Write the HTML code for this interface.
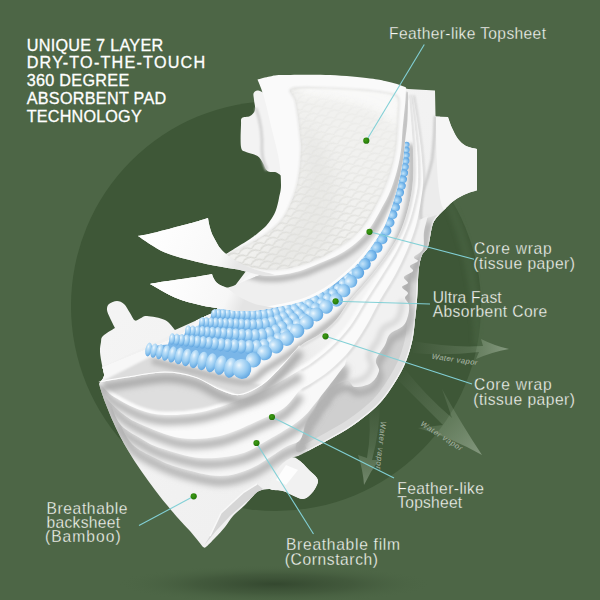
<!DOCTYPE html>
<html><head><meta charset="utf-8"><title>7 layer pad</title>
<style>html,body{margin:0;padding:0;background:#4d6646;}body{width:600px;height:600px;overflow:hidden;font-family:"Liberation Sans",sans-serif;}svg{display:block}</style>
</head><body>
<svg width="600" height="600" viewBox="0 0 600 600">
<defs>
<radialGradient id="gshadow" cx="0.5" cy="0.5" r="0.5">
 <stop offset="0" stop-color="#2a3c26" stop-opacity="0.72"/><stop offset="0.5" stop-color="#33472e" stop-opacity="0.4"/><stop offset="1" stop-color="#4b6544" stop-opacity="0"/>
</radialGradient>
<radialGradient id="bead" cx="0.38" cy="0.3" r="0.78">
 <stop offset="0" stop-color="#eef8fe"/><stop offset="0.25" stop-color="#bfe0f8"/><stop offset="0.6" stop-color="#92c8f0"/><stop offset="0.88" stop-color="#68abe3"/><stop offset="1" stop-color="#5299d8"/>
</radialGradient>
<radialGradient id="bead2" cx="0.4" cy="0.35" r="0.75">
 <stop offset="0" stop-color="#c6e3f9"/><stop offset="0.3" stop-color="#9fd0f3"/><stop offset="0.7" stop-color="#6eb1e8"/><stop offset="1" stop-color="#4a94d8"/>
</radialGradient>
<radialGradient id="dot" cx="0.4" cy="0.4" r="0.6">
 <stop offset="0" stop-color="#3f9a16"/><stop offset="0.6" stop-color="#2e880b"/><stop offset="1" stop-color="#23740a"/>
</radialGradient>
<linearGradient id="gflap1" gradientUnits="userSpaceOnUse" x1="150" y1="225" x2="235" y2="270">
 <stop offset="0" stop-color="#ffffff"/><stop offset="0.8" stop-color="#f8f8f8"/><stop offset="1" stop-color="#e6e6e6"/>
</linearGradient>
<linearGradient id="gflap2" gradientUnits="userSpaceOnUse" x1="160" y1="278" x2="240" y2="312">
 <stop offset="0" stop-color="#ffffff"/><stop offset="0.8" stop-color="#f7f7f7"/><stop offset="1" stop-color="#e4e4e4"/>
</linearGradient>
<linearGradient id="gE2" gradientUnits="userSpaceOnUse" x1="230" y1="405" x2="340" y2="340">
 <stop offset="0" stop-color="#dedede"/><stop offset="1" stop-color="#f3f3f3"/>
</linearGradient>
<linearGradient id="gbody" x1="0" y1="0" x2="1" y2="1">
 <stop offset="0" stop-color="#f7f7f7"/><stop offset="1" stop-color="#ececec"/>
</linearGradient>
<linearGradient id="garrow1" gradientUnits="userSpaceOnUse" x1="410" y1="346" x2="509" y2="349">
 <stop offset="0" stop-color="#ffffff" stop-opacity="0"/><stop offset="0.6" stop-color="#cfe5c8" stop-opacity="0.15"/><stop offset="1" stop-color="#eaf5e6" stop-opacity="0.36"/>
</linearGradient>
<linearGradient id="garrow2" gradientUnits="userSpaceOnUse" x1="400" y1="370" x2="481" y2="453">
 <stop offset="0" stop-color="#ffffff" stop-opacity="0"/><stop offset="0.55" stop-color="#cfe5c8" stop-opacity="0.14"/><stop offset="1" stop-color="#eaf5e6" stop-opacity="0.34"/>
</linearGradient>
<linearGradient id="garrow3" gradientUnits="userSpaceOnUse" x1="373" y1="400" x2="365" y2="483">
 <stop offset="0" stop-color="#ffffff" stop-opacity="0"/><stop offset="0.55" stop-color="#cfe5c8" stop-opacity="0.12"/><stop offset="1" stop-color="#eaf5e6" stop-opacity="0.30"/>
</linearGradient>
<pattern id="quilt" width="14" height="10" patternUnits="userSpaceOnUse" patternTransform="rotate(-22)">
 <path d="M0 5 Q7 -1.5 14 5" fill="none" stroke="#dadad6" stroke-width="1.2"/>
 <path d="M-7 10 Q0 3.5 7 10 M7 10 Q14 3.5 21 10 M-7 0 Q0 -6.5 7 0 M7 0 Q14 -6.5 21 0" fill="none" stroke="#dadad6" stroke-width="1.2"/>
</pattern>
<linearGradient id="gmq" gradientUnits="userSpaceOnUse" x1="360" y1="80" x2="290" y2="270">
 <stop offset="0" stop-color="#fff" stop-opacity="0.05"/><stop offset="0.4" stop-color="#fff" stop-opacity="0.35"/><stop offset="1" stop-color="#fff" stop-opacity="1"/>
</linearGradient>
<mask id="mq" maskUnits="userSpaceOnUse" x="0" y="0" width="600" height="600"><rect width="600" height="600" fill="url(#gmq)"/></mask>
<filter id="b05" x="-5%" y="-5%" width="110%" height="110%"><feGaussianBlur stdDeviation="0.6"/></filter>
<filter id="b1" x="-20%" y="-20%" width="140%" height="140%"><feGaussianBlur stdDeviation="1"/></filter>
<filter id="b2" x="-20%" y="-20%" width="140%" height="140%"><feGaussianBlur stdDeviation="2.2"/></filter>
<filter id="b3" x="-20%" y="-20%" width="140%" height="140%"><feGaussianBlur stdDeviation="3"/></filter>
<filter id="b4" x="-30%" y="-30%" width="160%" height="160%"><feGaussianBlur stdDeviation="4"/></filter>
<filter id="b7" x="-30%" y="-30%" width="160%" height="160%"><feGaussianBlur stdDeviation="7"/></filter>
</defs>
<rect width="600" height="600" fill="#4d6646"/>
<circle cx="276" cy="306" r="205" fill="#3e5737"/>
<path d="M449 203 Q476 262 478 345" fill="none" stroke="#4c6645" stroke-width="9" opacity="0.5" filter="url(#b2)"/>
<ellipse cx="275" cy="584" rx="158" ry="19" fill="url(#gshadow)"/>
<path d="M413 341 Q450 348 483 346 L481 339 Q495 346 509 349 Q492 352 476 359 L479 352 Q445 356 413 353 Z" fill="url(#garrow1)"/>
<path d="M404 368 Q425 395 452 418 L442 389 Q462 425 482 455 Q450 437 418 428 L443 425 Q418 400 398 380 Z" fill="url(#garrow2)"/>
<path d="M368 402 Q372 430 367 458 L358 455 Q363 470 364 485 Q370 472 379 460 L372 460 Q380 430 380 400 Z" fill="url(#garrow3)"/>
<path d="M262.0 92.0 C256.3 89.1 255.3 91.2 254.0 92.5 C252.7 93.8 253.8 97.1 254.0 100.0 C254.2 102.9 255.7 107.3 255.0 110.0 C254.3 112.7 252.2 114.7 250.0 116.0 C247.8 117.3 243.5 116.5 242.0 118.0 C240.5 119.5 241.2 120.2 241.0 125.0 C240.8 129.8 240.2 142.5 241.0 147.0 C241.8 151.5 243.2 150.5 246.0 152.0 C248.8 153.5 254.7 154.2 257.5 156.0 C260.3 157.8 261.3 160.5 263.0 163.0 C264.7 165.5 265.5 169.5 267.5 171.0 C269.5 172.5 271.6 171.8 275.0 172.0 C278.4 172.2 285.8 182.3 288.0 172.0 C290.2 161.7 292.3 123.3 288.0 110.0 C283.7 96.7 267.7 94.9 262.0 92.0Z" fill="#f3f3f3"/>
<path d="M256 108 Q263 128 262 150 Q262 160 267 170" fill="none" stroke="#d4d4d4" stroke-width="3" filter="url(#b1)"/>
<clipPath id="cbody"><path d="M300.0 100.0 L400.0 87.0 L408.0 89.0 L435.0 90.5 L435.5 116.5 L448.0 117.0 L448.0 117.0 C448.7 118.8 450.3 124.3 452.0 128.0 C453.7 131.7 455.7 136.0 458.0 139.0 C460.3 142.0 462.8 144.3 466.0 146.0 C469.2 147.7 475.2 148.5 477.0 149.0 L477.0 149.0 L477.0 190.5 L477.0 190.5 C475.2 191.1 469.7 192.4 466.0 194.0 C462.3 195.6 458.3 197.7 455.0 200.0 C451.7 202.3 448.8 205.3 446.0 208.0 C443.2 210.7 440.2 213.2 438.0 216.0 C435.8 218.8 434.2 219.9 432.5 225.0 C430.8 230.1 429.8 241.5 428.0 246.5 C426.2 251.5 423.5 251.6 422.0 255.0 C420.5 258.4 419.7 262.8 419.0 267.0 C418.3 271.2 418.3 274.5 418.0 280.0 C417.7 285.5 417.5 293.3 417.0 300.0 C416.5 306.7 415.8 313.0 415.0 320.0 C414.2 327.0 413.8 334.3 412.0 342.0 C410.2 349.7 407.7 358.0 404.0 366.0 C400.3 374.0 394.7 383.2 390.0 390.0 C385.3 396.8 382.3 401.0 376.0 407.0 C369.7 413.0 359.7 420.7 352.0 426.0 C344.3 431.3 337.3 434.8 330.0 439.0 C322.7 443.2 313.3 448.2 308.0 451.0 C302.7 453.8 299.7 455.2 298.0 456.0 L292.0 457.5 C293.3 458.1 297.3 459.1 300.0 461.0 C302.7 462.9 305.1 466.0 308.0 469.0 C310.9 472.0 316.2 476.0 317.5 479.0 C318.8 482.0 317.2 484.3 316.0 487.0 C314.8 489.7 312.2 493.0 310.0 495.0 C307.8 497.0 305.7 498.8 303.0 499.0 C300.3 499.2 297.3 497.3 294.0 496.0 C290.7 494.7 287.0 492.2 283.0 491.0 C279.0 489.8 273.5 489.2 270.0 489.0 C266.5 488.8 263.3 489.8 262.0 490.0 L262.0 490.0 C261.0 490.5 258.8 490.5 256.0 493.0 C253.2 495.5 248.8 501.2 245.0 505.0 C241.2 508.8 236.3 512.3 233.0 516.0 C229.7 519.7 228.0 523.3 225.0 527.0 C222.0 530.7 218.2 534.7 215.0 538.0 C211.8 541.3 208.0 545.5 206.0 547.0 C204.0 548.5 203.5 547.0 203.0 547.0 L203.0 547.0 C200.8 544.3 194.3 536.0 190.0 531.0 C185.7 526.0 182.8 523.8 177.0 517.0 C171.2 510.2 162.5 500.0 155.0 490.0 C147.5 480.0 138.3 467.0 132.0 457.0 C125.7 447.0 121.5 439.2 117.0 430.0 C112.5 420.8 108.0 409.7 105.0 402.0 C102.0 394.3 100.0 387.0 99.0 384.0 L99.0 384.0 C99.8 382.7 103.5 379.2 104.0 376.0 C104.5 372.8 102.7 369.0 102.0 365.0 C101.3 361.0 100.2 355.8 100.0 352.0 C99.8 348.2 100.5 344.7 101.0 342.0 C101.5 339.3 100.7 338.3 103.0 336.0 C105.3 333.7 113.0 329.3 115.0 328.0 L115.0 328.0 C114.2 326.3 111.3 321.0 110.0 318.0 C108.7 315.0 107.2 312.3 107.0 310.0 C106.8 307.7 107.3 305.5 109.0 304.0 C110.7 302.5 114.5 301.0 117.0 301.0 C119.5 301.0 121.8 302.0 124.0 304.0 C126.2 306.0 128.2 310.2 130.0 313.0 C131.8 315.8 133.2 319.7 135.0 320.5 C136.8 321.3 139.0 318.8 141.0 318.0 C143.0 317.2 143.0 315.7 147.0 316.0 C151.0 316.3 160.3 317.7 165.0 320.0 C169.7 322.3 173.3 328.3 175.0 330.0 L175.0 330.0 L215.0 312.0 L300.0 200.0 Z"/></clipPath>
<path d="M300.0 100.0 L400.0 87.0 L408.0 89.0 L435.0 90.5 L435.5 116.5 L448.0 117.0 L448.0 117.0 C448.7 118.8 450.3 124.3 452.0 128.0 C453.7 131.7 455.7 136.0 458.0 139.0 C460.3 142.0 462.8 144.3 466.0 146.0 C469.2 147.7 475.2 148.5 477.0 149.0 L477.0 149.0 L477.0 190.5 L477.0 190.5 C475.2 191.1 469.7 192.4 466.0 194.0 C462.3 195.6 458.3 197.7 455.0 200.0 C451.7 202.3 448.8 205.3 446.0 208.0 C443.2 210.7 440.2 213.2 438.0 216.0 C435.8 218.8 434.2 219.9 432.5 225.0 C430.8 230.1 429.8 241.5 428.0 246.5 C426.2 251.5 423.5 251.6 422.0 255.0 C420.5 258.4 419.7 262.8 419.0 267.0 C418.3 271.2 418.3 274.5 418.0 280.0 C417.7 285.5 417.5 293.3 417.0 300.0 C416.5 306.7 415.8 313.0 415.0 320.0 C414.2 327.0 413.8 334.3 412.0 342.0 C410.2 349.7 407.7 358.0 404.0 366.0 C400.3 374.0 394.7 383.2 390.0 390.0 C385.3 396.8 382.3 401.0 376.0 407.0 C369.7 413.0 359.7 420.7 352.0 426.0 C344.3 431.3 337.3 434.8 330.0 439.0 C322.7 443.2 313.3 448.2 308.0 451.0 C302.7 453.8 299.7 455.2 298.0 456.0 L292.0 457.5 C293.3 458.1 297.3 459.1 300.0 461.0 C302.7 462.9 305.1 466.0 308.0 469.0 C310.9 472.0 316.2 476.0 317.5 479.0 C318.8 482.0 317.2 484.3 316.0 487.0 C314.8 489.7 312.2 493.0 310.0 495.0 C307.8 497.0 305.7 498.8 303.0 499.0 C300.3 499.2 297.3 497.3 294.0 496.0 C290.7 494.7 287.0 492.2 283.0 491.0 C279.0 489.8 273.5 489.2 270.0 489.0 C266.5 488.8 263.3 489.8 262.0 490.0 L262.0 490.0 C261.0 490.5 258.8 490.5 256.0 493.0 C253.2 495.5 248.8 501.2 245.0 505.0 C241.2 508.8 236.3 512.3 233.0 516.0 C229.7 519.7 228.0 523.3 225.0 527.0 C222.0 530.7 218.2 534.7 215.0 538.0 C211.8 541.3 208.0 545.5 206.0 547.0 C204.0 548.5 203.5 547.0 203.0 547.0 L203.0 547.0 C200.8 544.3 194.3 536.0 190.0 531.0 C185.7 526.0 182.8 523.8 177.0 517.0 C171.2 510.2 162.5 500.0 155.0 490.0 C147.5 480.0 138.3 467.0 132.0 457.0 C125.7 447.0 121.5 439.2 117.0 430.0 C112.5 420.8 108.0 409.7 105.0 402.0 C102.0 394.3 100.0 387.0 99.0 384.0 L99.0 384.0 C99.8 382.7 103.5 379.2 104.0 376.0 C104.5 372.8 102.7 369.0 102.0 365.0 C101.3 361.0 100.2 355.8 100.0 352.0 C99.8 348.2 100.5 344.7 101.0 342.0 C101.5 339.3 100.7 338.3 103.0 336.0 C105.3 333.7 113.0 329.3 115.0 328.0 L115.0 328.0 C114.2 326.3 111.3 321.0 110.0 318.0 C108.7 315.0 107.2 312.3 107.0 310.0 C106.8 307.7 107.3 305.5 109.0 304.0 C110.7 302.5 114.5 301.0 117.0 301.0 C119.5 301.0 121.8 302.0 124.0 304.0 C126.2 306.0 128.2 310.2 130.0 313.0 C131.8 315.8 133.2 319.7 135.0 320.5 C136.8 321.3 139.0 318.8 141.0 318.0 C143.0 317.2 143.0 315.7 147.0 316.0 C151.0 316.3 160.3 317.7 165.0 320.0 C169.7 322.3 173.3 328.3 175.0 330.0 L175.0 330.0 L215.0 312.0 L300.0 200.0 Z" fill="url(#gbody)"/>
<g clip-path="url(#cbody)">
<path d="M436.0 212.0 C436.8 213.7 431.7 219.0 430.0 225.0 C428.3 231.0 428.0 242.5 426.0 248.0 C424.0 253.5 420.3 252.3 418.0 258.0 C415.7 263.7 413.3 274.0 412.0 282.0 C410.7 290.0 410.2 298.7 410.0 306.0 C409.8 313.3 411.2 318.7 411.0 326.0 C410.8 333.3 410.8 342.0 409.0 350.0 C407.2 358.0 403.7 367.3 400.0 374.0 C396.3 380.7 391.7 384.3 387.0 390.0 C382.3 395.7 378.5 401.8 372.0 408.0 C365.5 414.2 356.7 421.5 348.0 427.0 C339.3 432.5 328.0 436.8 320.0 441.0 C312.0 445.2 304.0 451.2 300.0 452.0 C296.0 452.8 295.2 450.5 296.0 446.0 C296.8 441.5 301.8 431.8 305.0 425.0 C308.2 418.2 311.7 411.3 315.0 405.0 C318.3 398.7 320.0 394.5 325.0 387.0 C330.0 379.5 337.5 369.5 345.0 360.0 C352.5 350.5 361.7 341.7 370.0 330.0 C378.3 318.3 388.3 303.3 395.0 290.0 C401.7 276.7 405.0 262.5 410.0 250.0 C415.0 237.5 420.7 221.3 425.0 215.0 C429.3 208.7 435.2 210.3 436.0 212.0Z" fill="#cfcfcf"/>
<path d="M446.0 208.0 C444.7 209.3 440.2 213.2 438.0 216.0 C435.8 218.8 434.2 219.9 432.5 225.0 C430.8 230.1 429.8 241.5 428.0 246.5 C426.2 251.5 423.5 251.6 422.0 255.0 C420.5 258.4 419.7 262.8 419.0 267.0 C418.3 271.2 418.3 274.5 418.0 280.0 C417.7 285.5 417.5 293.3 417.0 300.0 C416.5 306.7 415.8 313.0 415.0 320.0 C414.2 327.0 413.8 334.3 412.0 342.0 C410.2 349.7 407.7 358.0 404.0 366.0 C400.3 374.0 394.7 383.2 390.0 390.0 C385.3 396.8 382.3 401.0 376.0 407.0 C369.7 413.0 359.7 420.7 352.0 426.0 C344.3 431.3 337.3 434.8 330.0 439.0 C322.7 443.2 311.7 449.0 308.0 451.0" fill="none" stroke="#dedede" stroke-width="15"/>
<path d="M446.0 208.0 C444.7 209.3 440.2 213.2 438.0 216.0 C435.8 218.8 434.2 219.9 432.5 225.0 C430.8 230.1 429.8 241.5 428.0 246.5 C426.2 251.5 423.5 251.6 422.0 255.0 C420.5 258.4 419.7 262.8 419.0 267.0 C418.3 271.2 418.3 274.5 418.0 280.0 C417.7 285.5 417.5 293.3 417.0 300.0 C416.5 306.7 415.8 313.0 415.0 320.0 C414.2 327.0 413.8 334.3 412.0 342.0 C410.2 349.7 407.7 358.0 404.0 366.0 C400.3 374.0 394.7 383.2 390.0 390.0 C385.3 396.8 382.3 401.0 376.0 407.0 C369.7 413.0 359.7 420.7 352.0 426.0 C344.3 431.3 337.3 434.8 330.0 439.0 C322.7 443.2 311.7 449.0 308.0 451.0" fill="none" stroke="#f3f3f3" stroke-width="2.5"/>
<path d="M435 116 Q434.5 140 432 160 Q428 178 422.5 192 Q420 204 421 220 L440 214 L452 200 L440 116Z" fill="#ececec"/>
<path d="M435 116 Q434.5 140 432 160 Q428 178 422.5 192 Q420 204 421 220" fill="none" stroke="#c9c9c9" stroke-width="2.5" filter="url(#b1)"/>
<path d="M448 117 Q454 136 477 149 L477 190 Q455 197 444 210 Q436 200 436 117Z" fill="#f6f6f6"/>
<path d="M428.0 216.0 C427.3 218.7 424.8 226.5 424.0 232.0 C423.2 237.5 424.7 244.8 423.0 249.0 C421.3 253.2 414.8 255.0 414.0 257.0 C413.2 259.0 418.7 259.5 418.0 261.0 C417.3 262.5 410.8 264.3 410.0 266.0 C409.2 267.7 414.0 269.2 413.0 271.0 C412.0 272.8 404.8 275.0 404.0 277.0 C403.2 279.0 408.3 281.3 408.0 283.0 C407.7 284.7 402.0 285.3 402.0 287.0 C402.0 288.7 407.5 291.2 408.0 293.0 C408.5 294.8 404.8 296.0 405.0 298.0 C405.2 300.0 408.5 302.0 409.0 305.0 C409.5 308.0 409.0 312.5 408.0 316.0 C407.0 319.5 406.0 323.0 403.0 326.0 C400.0 329.0 393.0 330.8 390.0 334.0 C387.0 337.2 387.3 340.7 385.0 345.0 C382.7 349.3 377.0 355.7 376.0 360.0 C375.0 364.3 379.8 367.2 379.0 371.0 C378.2 374.8 375.0 380.3 371.0 383.0 C367.0 385.7 359.0 387.3 355.0 387.0 C351.0 386.7 351.2 380.8 347.0 381.0 C342.8 381.2 333.5 385.5 330.0 388.0 C326.5 390.5 328.0 393.3 326.0 396.0 C324.0 398.7 320.0 401.3 318.0 404.0 C316.0 406.7 315.7 409.3 314.0 412.0 C312.3 414.7 310.0 416.0 308.0 420.0 C306.0 424.0 303.7 431.7 302.0 436.0 C300.3 440.3 298.7 444.3 298.0 446.0" fill="none" stroke="#a0a0a0" stroke-width="5" filter="url(#b3)" transform="translate(1,6)"/>
<path d="M428.0 216.0 C427.3 218.7 424.8 226.5 424.0 232.0 C423.2 237.5 424.7 244.8 423.0 249.0 C421.3 253.2 414.8 255.0 414.0 257.0 C413.2 259.0 418.7 259.5 418.0 261.0 C417.3 262.5 410.8 264.3 410.0 266.0 C409.2 267.7 414.0 269.2 413.0 271.0 C412.0 272.8 404.8 275.0 404.0 277.0 C403.2 279.0 408.3 281.3 408.0 283.0 C407.7 284.7 402.0 285.3 402.0 287.0 C402.0 288.7 407.5 291.2 408.0 293.0 C408.5 294.8 404.8 296.0 405.0 298.0 C405.2 300.0 408.5 302.0 409.0 305.0 C409.5 308.0 409.0 312.5 408.0 316.0 C407.0 319.5 406.0 323.0 403.0 326.0 C400.0 329.0 393.0 330.8 390.0 334.0 C387.0 337.2 387.3 340.7 385.0 345.0 C382.7 349.3 377.0 355.7 376.0 360.0 C375.0 364.3 379.8 367.2 379.0 371.0 C378.2 374.8 375.0 380.3 371.0 383.0 C367.0 385.7 359.0 387.3 355.0 387.0 C351.0 386.7 351.2 380.8 347.0 381.0 C342.8 381.2 333.5 385.5 330.0 388.0 C326.5 390.5 328.0 393.3 326.0 396.0 C324.0 398.7 320.0 401.3 318.0 404.0 C316.0 406.7 315.7 409.3 314.0 412.0 C312.3 414.7 310.0 416.0 308.0 420.0 C306.0 424.0 303.7 431.7 302.0 436.0 C300.3 440.3 298.7 444.3 298.0 446.0 L409.0 100.0 L300.0 230.0 L180.0 335.0 L95.0 370.0 Z" fill="#f1f1f1"/>
<path d="M409.0 305.0 C408.8 306.8 409.0 312.5 408.0 316.0 C407.0 319.5 406.0 323.0 403.0 326.0 C400.0 329.0 393.0 330.8 390.0 334.0 C387.0 337.2 387.3 340.7 385.0 345.0 C382.7 349.3 377.0 355.7 376.0 360.0 C375.0 364.3 379.8 367.2 379.0 371.0 C378.2 374.8 375.0 380.3 371.0 383.0 C367.0 385.7 359.0 387.3 355.0 387.0 C351.0 386.7 351.2 380.8 347.0 381.0 C342.8 381.2 333.5 385.5 330.0 388.0 C326.5 390.5 328.0 393.3 326.0 396.0 C324.0 398.7 320.0 401.3 318.0 404.0 C316.0 406.7 315.7 409.3 314.0 412.0 C312.3 414.7 309.0 418.7 308.0 420.0" fill="none" stroke="#dadada" stroke-width="6" filter="url(#b2)" transform="translate(-7,-5)"/>
<path d="M204.5 545 L210 536 L221 513 L233 502 L244 492 L257 484 L263 489 L246 502 L230 516 L216 531Z" fill="#d6d6d6"/>
<path d="M210 536 L221 513 L233 502 L244 492 L257 484" fill="none" stroke="#f8f8f8" stroke-width="1.5"/>
<path d="M118.0 420.0 C120.3 424.0 125.8 437.7 132.0 444.0 C138.2 450.3 147.0 454.0 155.0 458.0 C163.0 462.0 169.2 465.0 180.0 468.0 C190.8 471.0 208.0 476.0 220.0 476.0 C232.0 476.0 241.3 472.7 252.0 468.0 C262.7 463.3 276.0 452.7 284.0 448.0 C292.0 443.3 296.3 444.3 300.0 440.0 C303.7 435.7 303.3 427.7 306.0 422.0 C308.7 416.3 313.0 411.3 316.0 406.0 C319.0 400.7 319.2 397.7 324.0 390.0 C328.8 382.3 341.5 365.0 345.0 360.0" fill="none" stroke="#b2b2b2" stroke-width="8.0" filter="url(#b3)" transform="translate(1,6)"/>
<path d="M118.0 420.0 C120.3 424.0 125.8 437.7 132.0 444.0 C138.2 450.3 147.0 454.0 155.0 458.0 C163.0 462.0 169.2 465.0 180.0 468.0 C190.8 471.0 208.0 476.0 220.0 476.0 C232.0 476.0 241.3 472.7 252.0 468.0 C262.7 463.3 276.0 452.7 284.0 448.0 C292.0 443.3 296.3 444.3 300.0 440.0 C303.7 435.7 303.3 427.7 306.0 422.0 C308.7 416.3 313.0 411.3 316.0 406.0 C319.0 400.7 319.2 397.7 324.0 390.0 C328.8 382.3 341.5 365.0 345.0 360.0 L409.0 100.0 L300.0 230.0 L180.0 335.0 L95.0 370.0 Z" fill="#f6f6f6"/>
<path d="M110.0 402.0 C111.7 405.7 115.0 418.0 120.0 424.0 C125.0 430.0 133.3 434.0 140.0 438.0 C146.7 442.0 150.0 444.7 160.0 448.0 C170.0 451.3 186.7 457.0 200.0 458.0 C213.3 459.0 228.7 457.0 240.0 454.0 C251.3 451.0 258.0 445.7 268.0 440.0 C278.0 434.3 291.7 426.7 300.0 420.0 C308.3 413.3 310.5 409.2 318.0 400.0 C325.5 390.8 340.5 370.8 345.0 365.0" fill="none" stroke="#b2b2b2" stroke-width="8.0" filter="url(#b3)" transform="translate(1,6)"/>
<path d="M110.0 402.0 C111.7 405.7 115.0 418.0 120.0 424.0 C125.0 430.0 133.3 434.0 140.0 438.0 C146.7 442.0 150.0 444.7 160.0 448.0 C170.0 451.3 186.7 457.0 200.0 458.0 C213.3 459.0 228.7 457.0 240.0 454.0 C251.3 451.0 258.0 445.7 268.0 440.0 C278.0 434.3 291.7 426.7 300.0 420.0 C308.3 413.3 310.5 409.2 318.0 400.0 C325.5 390.8 340.5 370.8 345.0 365.0 L409.0 100.0 L300.0 230.0 L180.0 335.0 L95.0 370.0 Z" fill="#f8f8f8"/>
<path d="M103.0 392.0 C103.8 393.3 104.7 396.3 108.0 400.0 C111.3 403.7 117.7 410.0 123.0 414.0 C128.3 418.0 130.5 420.0 140.0 424.0 C149.5 428.0 166.7 436.0 180.0 438.0 C193.3 440.0 206.7 439.0 220.0 436.0 C233.3 433.0 249.3 424.7 260.0 420.0 C270.7 415.3 277.3 413.0 284.0 408.0 C290.7 403.0 297.3 393.0 300.0 390.0" fill="none" stroke="#b2b2b2" stroke-width="8.0" filter="url(#b3)" transform="translate(1,6)"/>
<path d="M300.0 390.0 C301.7 389.0 305.0 387.3 310.0 384.0 C315.0 380.7 323.3 375.7 330.0 370.0 C336.7 364.3 344.0 357.3 350.0 350.0 C356.0 342.7 361.0 334.3 366.0 326.0 C371.0 317.7 375.2 308.5 380.0 300.0 C384.8 291.5 390.5 283.3 395.0 275.0 C399.5 266.7 403.5 258.3 407.0 250.0 C410.5 241.7 413.7 233.3 416.0 225.0 C418.3 216.7 419.8 207.5 421.0 200.0 C422.2 192.5 423.0 188.3 423.0 180.0 C423.0 171.7 422.0 160.0 421.0 150.0 C420.0 140.0 418.3 129.2 417.0 120.0 C415.7 110.8 413.7 99.2 413.0 95.0" fill="none" stroke="#cccccc" stroke-width="1.5" filter="url(#b1)" transform="translate(1.2,0.5)"/>
<path d="M103.0 392.0 C103.8 393.3 104.7 396.3 108.0 400.0 C111.3 403.7 117.7 410.0 123.0 414.0 C128.3 418.0 130.5 420.0 140.0 424.0 C149.5 428.0 166.7 436.0 180.0 438.0 C193.3 440.0 206.7 439.0 220.0 436.0 C233.3 433.0 249.3 424.7 260.0 420.0 C270.7 415.3 277.3 413.0 284.0 408.0 C290.7 403.0 295.7 394.0 300.0 390.0 C304.3 386.0 305.0 387.3 310.0 384.0 C315.0 380.7 323.3 375.7 330.0 370.0 C336.7 364.3 344.0 357.3 350.0 350.0 C356.0 342.7 361.0 334.3 366.0 326.0 C371.0 317.7 375.2 308.5 380.0 300.0 C384.8 291.5 390.5 283.3 395.0 275.0 C399.5 266.7 403.5 258.3 407.0 250.0 C410.5 241.7 413.7 233.3 416.0 225.0 C418.3 216.7 419.8 207.5 421.0 200.0 C422.2 192.5 423.0 188.3 423.0 180.0 C423.0 171.7 422.0 160.0 421.0 150.0 C420.0 140.0 418.3 129.2 417.0 120.0 C415.7 110.8 413.7 99.2 413.0 95.0 L409.0 100.0 L300.0 230.0 L180.0 335.0 L95.0 370.0 Z" fill="#fafafa"/>
<path d="M98.8 382.5 C100.0 383.8 103.3 387.5 106.0 390.0 C108.7 392.5 109.3 394.2 115.0 397.5 C120.7 400.8 131.7 407.1 140.0 410.0 C148.3 412.9 154.7 414.7 165.0 415.0 C175.3 415.3 189.5 414.5 202.0 412.0 C214.5 409.5 229.5 403.7 240.0 400.0 C250.5 396.3 257.8 393.3 265.0 390.0 C272.2 386.7 277.2 383.3 283.0 380.0 C288.8 376.7 297.2 371.7 300.0 370.0" fill="none" stroke="#b2b2b2" stroke-width="8.0" filter="url(#b3)" transform="translate(1,6)"/>
<path d="M300.0 370.0 C301.7 369.0 305.0 367.7 310.0 364.0 C315.0 360.3 323.3 354.3 330.0 348.0 C336.7 341.7 344.0 334.0 350.0 326.0 C356.0 318.0 360.7 308.5 366.0 300.0 C371.3 291.5 376.8 283.3 382.0 275.0 C387.2 266.7 392.7 258.3 397.0 250.0 C401.3 241.7 405.0 233.3 408.0 225.0 C411.0 216.7 413.3 207.5 415.0 200.0 C416.7 192.5 417.7 188.3 418.0 180.0 C418.3 171.7 417.7 160.0 417.0 150.0 C416.3 140.0 415.0 129.2 414.0 120.0 C413.0 110.8 411.5 99.2 411.0 95.0" fill="none" stroke="#cccccc" stroke-width="1.5" filter="url(#b1)" transform="translate(1.2,0.5)"/>
<path d="M98.8 382.5 C100.0 383.8 103.3 387.5 106.0 390.0 C108.7 392.5 109.3 394.2 115.0 397.5 C120.7 400.8 131.7 407.1 140.0 410.0 C148.3 412.9 154.7 414.7 165.0 415.0 C175.3 415.3 189.5 414.5 202.0 412.0 C214.5 409.5 229.5 403.7 240.0 400.0 C250.5 396.3 257.8 393.3 265.0 390.0 C272.2 386.7 277.2 383.3 283.0 380.0 C288.8 376.7 295.5 372.7 300.0 370.0 C304.5 367.3 305.0 367.7 310.0 364.0 C315.0 360.3 323.3 354.3 330.0 348.0 C336.7 341.7 344.0 334.0 350.0 326.0 C356.0 318.0 360.7 308.5 366.0 300.0 C371.3 291.5 376.8 283.3 382.0 275.0 C387.2 266.7 392.7 258.3 397.0 250.0 C401.3 241.7 405.0 233.3 408.0 225.0 C411.0 216.7 413.3 207.5 415.0 200.0 C416.7 192.5 417.7 188.3 418.0 180.0 C418.3 171.7 417.7 160.0 417.0 150.0 C416.3 140.0 415.0 129.2 414.0 120.0 C413.0 110.8 411.5 99.2 411.0 95.0 L409.0 100.0 L300.0 230.0 L180.0 335.0 L95.0 370.0 Z" fill="url(#gE2)"/>
<clipPath id="cE2"><path d="M98.8 382.5 C100.0 383.8 103.3 387.5 106.0 390.0 C108.7 392.5 109.3 394.2 115.0 397.5 C120.7 400.8 131.7 407.1 140.0 410.0 C148.3 412.9 154.7 414.7 165.0 415.0 C175.3 415.3 189.5 414.5 202.0 412.0 C214.5 409.5 229.5 403.7 240.0 400.0 C250.5 396.3 257.8 393.3 265.0 390.0 C272.2 386.7 277.2 383.3 283.0 380.0 C288.8 376.7 295.5 372.7 300.0 370.0 C304.5 367.3 305.0 367.7 310.0 364.0 C315.0 360.3 323.3 354.3 330.0 348.0 C336.7 341.7 344.0 334.0 350.0 326.0 C356.0 318.0 360.7 308.5 366.0 300.0 C371.3 291.5 376.8 283.3 382.0 275.0 C387.2 266.7 392.7 258.3 397.0 250.0 C401.3 241.7 405.0 233.3 408.0 225.0 C411.0 216.7 413.3 207.5 415.0 200.0 C416.7 192.5 417.7 188.3 418.0 180.0 C418.3 171.7 417.7 160.0 417.0 150.0 C416.3 140.0 415.0 129.2 414.0 120.0 C413.0 110.8 411.5 99.2 411.0 95.0 L409.0 100.0 L300.0 230.0 L180.0 335.0 L95.0 370.0 Z"/></clipPath>
<g clip-path="url(#cE2)"><path d="M98.8 382.5 C100.0 383.8 103.3 387.5 106.0 390.0 C108.7 392.5 109.3 394.2 115.0 397.5 C120.7 400.8 131.7 407.1 140.0 410.0 C148.3 412.9 154.7 414.7 165.0 415.0 C175.3 415.3 189.5 414.5 202.0 412.0 C214.5 409.5 229.5 403.7 240.0 400.0 C250.5 396.3 257.8 393.3 265.0 390.0 C272.2 386.7 277.2 383.3 283.0 380.0 C288.8 376.7 295.5 372.7 300.0 370.0 C304.5 367.3 305.0 367.7 310.0 364.0 C315.0 360.3 323.3 354.3 330.0 348.0 C336.7 341.7 344.0 334.0 350.0 326.0 C356.0 318.0 360.7 308.5 366.0 300.0 C371.3 291.5 376.8 283.3 382.0 275.0 C387.2 266.7 392.7 258.3 397.0 250.0 C401.3 241.7 405.0 233.3 408.0 225.0 C411.0 216.7 413.3 207.5 415.0 200.0 C416.7 192.5 417.7 188.3 418.0 180.0 C418.3 171.7 417.7 160.0 417.0 150.0 C416.3 140.0 415.0 129.2 414.0 120.0 C413.0 110.8 411.5 99.2 411.0 95.0" fill="none" stroke="#fbfbfb" stroke-width="7" filter="url(#b1)"/></g>
<path d="M98.8 382.5 C101.0 382.1 107.2 380.8 112.0 380.0 C116.8 379.2 118.7 378.8 127.5 377.5 C136.3 376.2 153.8 372.5 165.0 372.5 C176.2 372.5 185.8 374.6 195.0 377.5 C204.2 380.4 212.5 387.1 220.0 390.0 C227.5 392.9 233.0 395.8 240.0 395.0 C247.0 394.2 254.8 390.0 262.0 385.0 C269.2 380.0 276.7 371.5 283.0 365.0 C289.3 358.5 297.2 349.2 300.0 346.0" fill="none" stroke="#a8a8a8" stroke-width="8.0" filter="url(#b3)" transform="translate(1,6)"/>
<path d="M300.0 346.0 C303.3 344.0 314.0 338.3 320.0 334.0 C326.0 329.7 331.0 325.7 336.0 320.0 C341.0 314.3 345.3 306.0 350.0 300.0 C354.7 294.0 359.5 289.3 364.0 284.0 C368.5 278.7 372.7 273.7 377.0 268.0 C381.3 262.3 386.0 256.3 390.0 250.0 C394.0 243.7 397.8 237.5 401.0 230.0 C404.2 222.5 407.0 213.3 409.0 205.0 C411.0 196.7 412.3 189.2 413.0 180.0 C413.7 170.8 413.3 160.0 413.0 150.0 C412.7 140.0 411.7 129.2 411.0 120.0 C410.3 110.8 409.3 99.2 409.0 95.0" fill="none" stroke="#cccccc" stroke-width="1.5" filter="url(#b1)" transform="translate(1.2,0.5)"/>
<path d="M98.8 382.5 C101.0 382.1 107.2 380.8 112.0 380.0 C116.8 379.2 118.7 378.8 127.5 377.5 C136.3 376.2 153.8 372.5 165.0 372.5 C176.2 372.5 185.8 374.6 195.0 377.5 C204.2 380.4 212.5 387.1 220.0 390.0 C227.5 392.9 233.0 395.8 240.0 395.0 C247.0 394.2 254.8 390.0 262.0 385.0 C269.2 380.0 276.7 371.5 283.0 365.0 C289.3 358.5 293.8 351.2 300.0 346.0 C306.2 340.8 314.0 338.3 320.0 334.0 C326.0 329.7 331.0 325.7 336.0 320.0 C341.0 314.3 345.3 306.0 350.0 300.0 C354.7 294.0 359.5 289.3 364.0 284.0 C368.5 278.7 372.7 273.7 377.0 268.0 C381.3 262.3 386.0 256.3 390.0 250.0 C394.0 243.7 397.8 237.5 401.0 230.0 C404.2 222.5 407.0 213.3 409.0 205.0 C411.0 196.7 412.3 189.2 413.0 180.0 C413.7 170.8 413.3 160.0 413.0 150.0 C412.7 140.0 411.7 129.2 411.0 120.0 C410.3 110.8 409.3 99.2 409.0 95.0 L409.0 100.0 L300.0 230.0 L180.0 335.0 L95.0 370.0 Z" fill="#f7f7f7"/>
</g>
<clipPath id="cE1"><path d="M98.8 382.5 C101.0 382.1 107.2 380.8 112.0 380.0 C116.8 379.2 118.7 378.8 127.5 377.5 C136.3 376.2 153.8 372.5 165.0 372.5 C176.2 372.5 185.8 374.6 195.0 377.5 C204.2 380.4 212.5 387.1 220.0 390.0 C227.5 392.9 233.0 395.8 240.0 395.0 C247.0 394.2 254.8 390.0 262.0 385.0 C269.2 380.0 276.7 371.5 283.0 365.0 C289.3 358.5 293.8 351.2 300.0 346.0 C306.2 340.8 314.0 338.3 320.0 334.0 C326.0 329.7 331.0 325.7 336.0 320.0 C341.0 314.3 345.3 306.0 350.0 300.0 C354.7 294.0 359.5 289.3 364.0 284.0 C368.5 278.7 372.7 273.7 377.0 268.0 C381.3 262.3 386.0 256.3 390.0 250.0 C394.0 243.7 397.8 237.5 401.0 230.0 C404.2 222.5 407.0 213.3 409.0 205.0 C411.0 196.7 412.3 189.2 413.0 180.0 C413.7 170.8 413.3 160.0 413.0 150.0 C412.7 140.0 411.7 129.2 411.0 120.0 C410.3 110.8 409.3 99.2 409.0 95.0 L409.0 100.0 L300.0 230.0 L180.0 335.0 L95.0 370.0 Z"/></clipPath>
<g clip-path="url(#cE1)">
<path d="M99 383 L150 357 L240 380 L262 385 L240 396 L195 378.5 L165 373.5 L127.5 378.5Z" fill="#dcdcdc" filter="url(#b1)"/>
<path d="M150.0 358.0 C156.7 359.7 176.3 364.7 190.0 368.0 C203.7 371.3 222.2 376.3 232.0 378.0 C241.8 379.7 243.8 379.8 249.0 378.0 C254.2 376.2 256.8 371.3 263.0 367.0 C269.2 362.7 278.8 357.0 286.0 352.0 C293.2 347.0 299.3 342.0 306.0 337.0 C312.7 332.0 320.2 326.7 326.0 322.0 C331.8 317.3 336.3 313.7 341.0 309.0 C345.7 304.3 348.5 300.3 354.0 294.0 C359.5 287.7 367.8 278.8 374.0 271.0 C380.2 263.2 386.3 255.5 391.0 247.0 C395.7 238.5 399.2 228.7 402.0 220.0 C404.8 211.3 406.7 204.2 408.0 195.0 C409.3 185.8 409.8 174.0 410.0 165.0 C410.2 156.0 409.2 145.0 409.0 141.0" fill="none" stroke="#bcbcbc" stroke-width="7" filter="url(#b2)" transform="translate(2,3)"/>
<path d="M98.8 382.5 C101.0 382.1 107.2 380.8 112.0 380.0 C116.8 379.2 118.7 378.8 127.5 377.5 C136.3 376.2 153.8 372.5 165.0 372.5 C176.2 372.5 185.8 374.6 195.0 377.5 C204.2 380.4 212.5 387.1 220.0 390.0 C227.5 392.9 233.0 395.8 240.0 395.0 C247.0 394.2 254.8 390.0 262.0 385.0 C269.2 380.0 276.7 371.5 283.0 365.0 C289.3 358.5 297.2 349.2 300.0 346.0" fill="none" stroke="#fefefe" stroke-width="1.8"/>
</g>
<path d="M151.0 346.0 L168.0 344.5 L171.0 335.0 L184.0 335.5 L187.0 327.0 L198.0 327.0 L201.0 318.5 L210.0 318.5 L213.0 310.5 L300.0 300.0 L372.0 246.0 L397.0 180.0 L405.0 143.0 L407.0 143.0 L407.0 143.0 C407.0 146.7 407.5 158.0 407.0 165.0 C406.5 172.0 405.3 178.7 404.0 185.0 C402.7 191.3 401.0 196.8 399.0 203.0 C397.0 209.2 394.3 216.2 392.0 222.0 C389.7 227.8 387.8 232.8 385.0 238.0 C382.2 243.2 378.8 247.7 375.0 253.0 C371.2 258.3 366.8 264.2 362.0 270.0 C357.2 275.8 350.3 283.0 346.0 288.0 C341.7 293.0 340.0 296.2 336.0 300.0 C332.0 303.8 327.7 306.3 322.0 311.0 C316.3 315.7 308.7 322.7 302.0 328.0 C295.3 333.3 289.3 337.8 282.0 343.0 C274.7 348.2 263.8 354.5 258.0 359.0 C252.2 363.5 250.3 367.7 247.0 370.0 C243.7 372.3 239.5 372.5 238.0 373.0 L238.0 373.0 C233.3 372.0 218.0 368.8 210.0 367.0 C202.0 365.2 196.7 363.7 190.0 362.0 C183.3 360.3 176.3 358.3 170.0 357.0 C163.7 355.7 155.0 354.5 152.0 354.0 L152.0 354.0 L150.0 350.0 Z" fill="#7ab6e8"/>
<clipPath id="cbeads"><path d="M140 336 L172 333 L188 325 L202 317 L216 308 L262 302 L300 292 L340 264 L372 238 L392 200 L402 160 L404 138 L416 138 L416 200 L398 250 L352 312 L262 392 L140 368Z"/></clipPath>
<g clip-path="url(#cbeads)">
<ellipse cx="298.6" cy="301.8" rx="4.1" ry="5.4" transform="rotate(-31 298.6 301.8)" fill="url(#bead)"/>
<ellipse cx="293.2" cy="305.2" rx="4.1" ry="5.6" transform="rotate(-31 293.2 305.2)" fill="url(#bead)"/>
<ellipse cx="287.6" cy="308.4" rx="4.2" ry="5.7" transform="rotate(-28 287.6 308.4)" fill="url(#bead)"/>
<ellipse cx="281.7" cy="311.1" rx="4.2" ry="5.8" transform="rotate(-20 281.7 311.1)" fill="url(#bead)"/>
<ellipse cx="275.7" cy="312.9" rx="4.0" ry="5.7" transform="rotate(-14 275.7 312.9)" fill="url(#bead)"/>
<ellipse cx="269.8" cy="314.1" rx="3.9" ry="5.6" transform="rotate(-9 269.8 314.1)" fill="url(#bead)"/>
<ellipse cx="263.9" cy="314.8" rx="3.8" ry="5.5" transform="rotate(-6 263.9 314.8)" fill="url(#bead)"/>
<ellipse cx="258.2" cy="315.2" rx="3.7" ry="5.4" transform="rotate(-1 258.2 315.2)" fill="url(#bead)"/>
<ellipse cx="252.7" cy="315.1" rx="3.6" ry="5.4" transform="rotate(2 252.7 315.1)" fill="url(#bead)"/>
<ellipse cx="247.3" cy="314.8" rx="3.5" ry="5.3" transform="rotate(3 247.3 314.8)" fill="url(#bead)"/>
<ellipse cx="242.1" cy="314.6" rx="3.4" ry="5.2" transform="rotate(2 242.1 314.6)" fill="url(#bead)"/>
<ellipse cx="237.1" cy="314.4" rx="3.3" ry="5.1" transform="rotate(2 237.1 314.4)" fill="url(#bead)"/>
<ellipse cx="232.2" cy="314.2" rx="3.2" ry="5.1" transform="rotate(2 232.2 314.2)" fill="url(#bead)"/>
<ellipse cx="227.4" cy="314.0" rx="3.1" ry="5.0" transform="rotate(2 227.4 314.0)" fill="url(#bead)"/>
<ellipse cx="222.8" cy="313.9" rx="3.0" ry="4.9" transform="rotate(2 222.8 313.9)" fill="url(#bead)"/>
<ellipse cx="218.3" cy="313.7" rx="2.9" ry="4.9" transform="rotate(2 218.3 313.7)" fill="url(#bead)"/>
<ellipse cx="214.0" cy="313.5" rx="2.8" ry="4.8" transform="rotate(2 214.0 313.5)" fill="url(#bead)"/>
<ellipse cx="310.6" cy="298.0" rx="4.0" ry="5.4" transform="rotate(-38 310.6 298.0)" fill="url(#bead)"/>
<ellipse cx="305.6" cy="301.9" rx="4.1" ry="5.5" transform="rotate(-38 305.6 301.9)" fill="url(#bead)"/>
<ellipse cx="300.5" cy="305.8" rx="4.1" ry="5.6" transform="rotate(-36 300.5 305.8)" fill="url(#bead)"/>
<ellipse cx="295.2" cy="309.5" rx="4.2" ry="5.7" transform="rotate(-35 295.2 309.5)" fill="url(#bead)"/>
<ellipse cx="289.8" cy="313.2" rx="4.2" ry="5.8" transform="rotate(-34 289.8 313.2)" fill="url(#bead)"/>
<ellipse cx="284.2" cy="316.8" rx="4.3" ry="5.8" transform="rotate(-30 284.2 316.8)" fill="url(#bead)"/>
<ellipse cx="278.2" cy="319.9" rx="4.3" ry="5.9" transform="rotate(-23 278.2 319.9)" fill="url(#bead)"/>
<ellipse cx="271.8" cy="322.2" rx="4.4" ry="6.0" transform="rotate(-16 271.8 322.2)" fill="url(#bead)"/>
<ellipse cx="265.4" cy="323.6" rx="4.3" ry="5.9" transform="rotate(-10 265.4 323.6)" fill="url(#bead)"/>
<ellipse cx="259.1" cy="324.4" rx="4.1" ry="5.8" transform="rotate(-5 259.1 324.4)" fill="url(#bead)"/>
<ellipse cx="252.9" cy="324.7" rx="4.0" ry="5.7" transform="rotate(0 252.9 324.7)" fill="url(#bead)"/>
<ellipse cx="247.0" cy="324.5" rx="3.8" ry="5.6" transform="rotate(3 247.0 324.5)" fill="url(#bead)"/>
<ellipse cx="241.3" cy="324.2" rx="3.7" ry="5.6" transform="rotate(4 241.3 324.2)" fill="url(#bead)"/>
<ellipse cx="235.8" cy="323.8" rx="3.6" ry="5.5" transform="rotate(4 235.8 323.8)" fill="url(#bead)"/>
<ellipse cx="230.4" cy="323.5" rx="3.5" ry="5.4" transform="rotate(3 230.4 323.5)" fill="url(#bead)"/>
<ellipse cx="225.3" cy="323.3" rx="3.3" ry="5.3" transform="rotate(3 225.3 323.3)" fill="url(#bead)"/>
<ellipse cx="220.3" cy="323.0" rx="3.2" ry="5.3" transform="rotate(3 220.3 323.0)" fill="url(#bead)"/>
<ellipse cx="215.5" cy="322.8" rx="3.1" ry="5.2" transform="rotate(3 215.5 322.8)" fill="url(#bead)"/>
<ellipse cx="210.8" cy="322.5" rx="3.0" ry="5.1" transform="rotate(3 210.8 322.5)" fill="url(#bead)"/>
<ellipse cx="206.3" cy="322.2" rx="2.9" ry="5.1" transform="rotate(3 206.3 322.2)" fill="url(#bead)"/>
<ellipse cx="202.0" cy="322.0" rx="2.8" ry="5.0" transform="rotate(3 202.0 322.0)" fill="url(#bead)"/>
<ellipse cx="330.3" cy="286.5" rx="4.3" ry="5.2" transform="rotate(-43 330.3 286.5)" fill="url(#bead)"/>
<ellipse cx="325.4" cy="291.1" rx="4.3" ry="5.3" transform="rotate(-43 325.4 291.1)" fill="url(#bead)"/>
<ellipse cx="320.4" cy="295.6" rx="4.4" ry="5.4" transform="rotate(-42 320.4 295.6)" fill="url(#bead)"/>
<ellipse cx="315.3" cy="300.1" rx="4.4" ry="5.5" transform="rotate(-41 315.3 300.1)" fill="url(#bead)"/>
<ellipse cx="310.1" cy="304.5" rx="4.4" ry="5.6" transform="rotate(-40 310.1 304.5)" fill="url(#bead)"/>
<ellipse cx="304.8" cy="309.1" rx="4.5" ry="5.7" transform="rotate(-41 304.8 309.1)" fill="url(#bead)"/>
<ellipse cx="299.6" cy="313.7" rx="4.5" ry="5.8" transform="rotate(-42 299.6 313.7)" fill="url(#bead)"/>
<ellipse cx="294.2" cy="318.3" rx="4.6" ry="5.9" transform="rotate(-39 294.2 318.3)" fill="url(#bead)"/>
<ellipse cx="288.5" cy="322.7" rx="4.6" ry="6.0" transform="rotate(-37 288.5 322.7)" fill="url(#bead)"/>
<ellipse cx="282.6" cy="326.8" rx="4.7" ry="6.2" transform="rotate(-33 282.6 326.8)" fill="url(#bead)"/>
<ellipse cx="276.2" cy="330.4" rx="4.7" ry="6.3" transform="rotate(-25 276.2 330.4)" fill="url(#bead)"/>
<ellipse cx="269.4" cy="333.2" rx="4.8" ry="6.4" transform="rotate(-18 269.4 333.2)" fill="url(#bead)"/>
<ellipse cx="262.2" cy="334.9" rx="4.8" ry="6.5" transform="rotate(-9 262.2 334.9)" fill="url(#bead)"/>
<ellipse cx="255.1" cy="335.5" rx="4.6" ry="6.4" transform="rotate(-2 255.1 335.5)" fill="url(#bead)"/>
<ellipse cx="248.2" cy="335.4" rx="4.4" ry="6.3" transform="rotate(3 248.2 335.4)" fill="url(#bead)"/>
<ellipse cx="241.6" cy="335.0" rx="4.3" ry="6.2" transform="rotate(5 241.6 335.0)" fill="url(#bead)"/>
<ellipse cx="235.3" cy="334.4" rx="4.1" ry="6.1" transform="rotate(5 235.3 334.4)" fill="url(#bead)"/>
<ellipse cx="229.2" cy="333.8" rx="3.9" ry="6.0" transform="rotate(6 229.2 333.8)" fill="url(#bead)"/>
<ellipse cx="223.3" cy="333.3" rx="3.8" ry="5.9" transform="rotate(5 223.3 333.3)" fill="url(#bead)"/>
<ellipse cx="217.7" cy="332.8" rx="3.7" ry="5.8" transform="rotate(4 217.7 332.8)" fill="url(#bead)"/>
<ellipse cx="212.2" cy="332.4" rx="3.5" ry="5.7" transform="rotate(4 212.2 332.4)" fill="url(#bead)"/>
<ellipse cx="207.0" cy="332.0" rx="3.4" ry="5.6" transform="rotate(4 207.0 332.0)" fill="url(#bead)"/>
<ellipse cx="202.0" cy="331.6" rx="3.3" ry="5.5" transform="rotate(5 202.0 331.6)" fill="url(#bead)"/>
<ellipse cx="197.1" cy="331.2" rx="3.1" ry="5.4" transform="rotate(5 197.1 331.2)" fill="url(#bead)"/>
<ellipse cx="192.5" cy="330.9" rx="3.0" ry="5.4" transform="rotate(5 192.5 330.9)" fill="url(#bead)"/>
<ellipse cx="188.0" cy="330.5" rx="2.9" ry="5.3" transform="rotate(5 188.0 330.5)" fill="url(#bead)"/>
<ellipse cx="404.0" cy="146.6" rx="1.5" ry="1.5" transform="rotate(-88 404.0 146.6)" fill="url(#bead)"/>
<ellipse cx="403.9" cy="148.9" rx="1.5" ry="1.5" transform="rotate(-88 403.9 148.9)" fill="url(#bead)"/>
<ellipse cx="403.8" cy="151.2" rx="1.5" ry="1.5" transform="rotate(-87 403.8 151.2)" fill="url(#bead)"/>
<ellipse cx="403.6" cy="153.6" rx="1.5" ry="1.5" transform="rotate(-85 403.6 153.6)" fill="url(#bead)"/>
<ellipse cx="403.4" cy="155.9" rx="1.5" ry="1.5" transform="rotate(-83 403.4 155.9)" fill="url(#bead)"/>
<ellipse cx="403.1" cy="158.3" rx="1.6" ry="1.6" transform="rotate(-82 403.1 158.3)" fill="url(#bead)"/>
<ellipse cx="402.7" cy="160.8" rx="1.6" ry="1.6" transform="rotate(-81 402.7 160.8)" fill="url(#bead)"/>
<ellipse cx="402.3" cy="163.2" rx="1.6" ry="1.6" transform="rotate(-81 402.3 163.2)" fill="url(#bead)"/>
<ellipse cx="401.9" cy="165.8" rx="1.7" ry="1.7" transform="rotate(-81 401.9 165.8)" fill="url(#bead)"/>
<ellipse cx="401.4" cy="168.4" rx="1.7" ry="1.7" transform="rotate(-81 401.4 168.4)" fill="url(#bead)"/>
<ellipse cx="401.0" cy="171.0" rx="1.7" ry="1.7" transform="rotate(-80 401.0 171.0)" fill="url(#bead)"/>
<ellipse cx="400.5" cy="173.7" rx="1.8" ry="1.8" transform="rotate(-79 400.5 173.7)" fill="url(#bead)"/>
<ellipse cx="399.9" cy="176.4" rx="1.8" ry="1.8" transform="rotate(-77 399.9 176.4)" fill="url(#bead)"/>
<ellipse cx="399.2" cy="179.1" rx="1.8" ry="1.8" transform="rotate(-75 399.2 179.1)" fill="url(#bead)"/>
<ellipse cx="398.5" cy="181.9" rx="1.9" ry="1.9" transform="rotate(-74 398.5 181.9)" fill="url(#bead)"/>
<ellipse cx="397.6" cy="184.7" rx="1.9" ry="1.9" transform="rotate(-74 397.6 184.7)" fill="url(#bead)"/>
<ellipse cx="396.8" cy="187.6" rx="1.9" ry="1.9" transform="rotate(-75 396.8 187.6)" fill="url(#bead)"/>
<ellipse cx="396.1" cy="190.6" rx="2.0" ry="2.0" transform="rotate(-75 396.1 190.6)" fill="url(#bead)"/>
<ellipse cx="395.3" cy="193.6" rx="2.0" ry="2.0" transform="rotate(-75 395.3 193.6)" fill="url(#bead)"/>
<ellipse cx="394.4" cy="196.7" rx="2.1" ry="2.1" transform="rotate(-73 394.4 196.7)" fill="url(#bead)"/>
<ellipse cx="393.4" cy="199.9" rx="2.2" ry="2.2" transform="rotate(-71 393.4 199.9)" fill="url(#bead)"/>
<ellipse cx="392.2" cy="203.1" rx="2.2" ry="2.2" transform="rotate(-70 392.2 203.1)" fill="url(#bead)"/>
<ellipse cx="391.0" cy="206.4" rx="2.3" ry="2.3" transform="rotate(-69 391.0 206.4)" fill="url(#bead)"/>
<ellipse cx="389.7" cy="209.9" rx="2.4" ry="2.4" transform="rotate(-70 389.7 209.9)" fill="url(#bead)"/>
<ellipse cx="388.4" cy="213.4" rx="2.4" ry="2.4" transform="rotate(-71 388.4 213.4)" fill="url(#bead)"/>
<ellipse cx="387.1" cy="217.1" rx="2.5" ry="2.5" transform="rotate(-70 387.1 217.1)" fill="url(#bead)"/>
<ellipse cx="385.6" cy="220.9" rx="2.6" ry="2.6" transform="rotate(-67 385.6 220.9)" fill="url(#bead)"/>
<ellipse cx="384.0" cy="224.7" rx="2.7" ry="2.7" transform="rotate(-66 384.0 224.7)" fill="url(#bead)"/>
<ellipse cx="382.2" cy="228.6" rx="2.8" ry="2.8" transform="rotate(-64 382.2 228.6)" fill="url(#bead)"/>
<ellipse cx="380.2" cy="232.5" rx="2.9" ry="2.9" transform="rotate(-63 380.2 232.5)" fill="url(#bead)"/>
<ellipse cx="378.1" cy="236.6" rx="2.9" ry="2.9" transform="rotate(-62 378.1 236.6)" fill="url(#bead)"/>
<ellipse cx="375.8" cy="240.7" rx="3.1" ry="3.1" transform="rotate(-59 375.8 240.7)" fill="url(#bead)"/>
<ellipse cx="373.2" cy="244.9" rx="3.2" ry="3.2" transform="rotate(-57 373.2 244.9)" fill="url(#bead)"/>
<ellipse cx="370.3" cy="249.3" rx="3.3" ry="3.4" transform="rotate(-56 370.3 249.3)" fill="url(#bead)"/>
<ellipse cx="367.2" cy="253.7" rx="3.5" ry="3.6" transform="rotate(-55 367.2 253.7)" fill="url(#bead)"/>
<ellipse cx="363.9" cy="258.3" rx="3.7" ry="3.7" transform="rotate(-54 363.9 258.3)" fill="url(#bead)"/>
<ellipse cx="360.3" cy="263.0" rx="3.8" ry="3.9" transform="rotate(-52 360.3 263.0)" fill="url(#bead)"/>
<ellipse cx="356.5" cy="267.9" rx="4.0" ry="4.1" transform="rotate(-51 356.5 267.9)" fill="url(#bead)"/>
<ellipse cx="352.4" cy="272.9" rx="4.2" ry="4.3" transform="rotate(-50 352.4 272.9)" fill="url(#bead)"/>
<ellipse cx="348.0" cy="278.0" rx="4.4" ry="4.6" transform="rotate(-49 348.0 278.0)" fill="url(#bead)"/>
<ellipse cx="343.4" cy="283.2" rx="4.5" ry="4.7" transform="rotate(-48 343.4 283.2)" fill="url(#bead)"/>
<ellipse cx="338.6" cy="288.4" rx="4.6" ry="4.9" transform="rotate(-45 338.6 288.4)" fill="url(#bead)"/>
<ellipse cx="333.4" cy="293.4" rx="4.7" ry="5.1" transform="rotate(-42 333.4 293.4)" fill="url(#bead)"/>
<ellipse cx="327.8" cy="298.3" rx="4.8" ry="5.2" transform="rotate(-41 327.8 298.3)" fill="url(#bead)"/>
<ellipse cx="322.0" cy="303.1" rx="4.9" ry="5.4" transform="rotate(-39 322.0 303.1)" fill="url(#bead)"/>
<ellipse cx="316.1" cy="308.0" rx="5.0" ry="5.6" transform="rotate(-41 316.1 308.0)" fill="url(#bead)"/>
<ellipse cx="310.3" cy="313.3" rx="5.1" ry="5.8" transform="rotate(-43 310.3 313.3)" fill="url(#bead)"/>
<ellipse cx="304.4" cy="318.8" rx="5.2" ry="6.0" transform="rotate(-42 304.4 318.8)" fill="url(#bead)"/>
<ellipse cx="298.4" cy="324.1" rx="5.2" ry="6.1" transform="rotate(-41 298.4 324.1)" fill="url(#bead)"/>
<ellipse cx="292.2" cy="329.3" rx="5.2" ry="6.3" transform="rotate(-38 292.2 329.3)" fill="url(#bead)"/>
<ellipse cx="285.8" cy="334.2" rx="5.2" ry="6.5" transform="rotate(-36 285.8 334.2)" fill="url(#bead)"/>
<ellipse cx="279.1" cy="338.7" rx="5.2" ry="6.7" transform="rotate(-31 279.1 338.7)" fill="url(#bead)"/>
<ellipse cx="272.0" cy="342.5" rx="5.2" ry="6.8" transform="rotate(-27 272.0 342.5)" fill="url(#bead)"/>
<ellipse cx="264.6" cy="345.7" rx="5.2" ry="7.0" transform="rotate(-17 264.6 345.7)" fill="url(#bead)"/>
<ellipse cx="256.7" cy="347.1" rx="5.2" ry="7.2" transform="rotate(-4 256.7 347.1)" fill="url(#bead)"/>
<ellipse cx="248.9" cy="347.1" rx="5.0" ry="7.1" transform="rotate(3 248.9 347.1)" fill="url(#bead)"/>
<ellipse cx="241.5" cy="346.6" rx="4.8" ry="7.0" transform="rotate(5 241.5 346.6)" fill="url(#bead)"/>
<ellipse cx="234.4" cy="345.9" rx="4.6" ry="6.8" transform="rotate(5 234.4 345.9)" fill="url(#bead)"/>
<ellipse cx="227.5" cy="345.3" rx="4.4" ry="6.7" transform="rotate(6 227.5 345.3)" fill="url(#bead)"/>
<ellipse cx="220.9" cy="344.6" rx="4.3" ry="6.6" transform="rotate(7 220.9 344.6)" fill="url(#bead)"/>
<ellipse cx="214.6" cy="343.8" rx="4.1" ry="6.5" transform="rotate(7 214.6 343.8)" fill="url(#bead)"/>
<ellipse cx="208.5" cy="343.0" rx="4.0" ry="6.4" transform="rotate(7 208.5 343.0)" fill="url(#bead)"/>
<ellipse cx="202.7" cy="342.3" rx="3.8" ry="6.3" transform="rotate(7 202.7 342.3)" fill="url(#bead)"/>
<ellipse cx="197.0" cy="341.7" rx="3.7" ry="6.2" transform="rotate(6 197.0 341.7)" fill="url(#bead)"/>
<ellipse cx="191.6" cy="341.1" rx="3.5" ry="6.1" transform="rotate(6 191.6 341.1)" fill="url(#bead)"/>
<ellipse cx="186.4" cy="340.5" rx="3.4" ry="6.0" transform="rotate(6 186.4 340.5)" fill="url(#bead)"/>
<ellipse cx="181.4" cy="340.0" rx="3.2" ry="6.0" transform="rotate(6 181.4 340.0)" fill="url(#bead)"/>
<ellipse cx="176.6" cy="339.5" rx="3.1" ry="5.9" transform="rotate(6 176.6 339.5)" fill="url(#bead)"/>
<ellipse cx="172.0" cy="339.0" rx="3.0" ry="5.8" transform="rotate(6 172.0 339.0)" fill="url(#bead)"/>
</g>
<ellipse cx="148.6" cy="349.5" rx="3.2" ry="7.0" transform="rotate(12 148.6 349.5)" fill="url(#bead)"/>
<ellipse cx="154.0" cy="350.6" rx="3.4" ry="7.3" transform="rotate(12 154.0 350.6)" fill="url(#bead)"/>
<ellipse cx="159.8" cy="351.8" rx="3.6" ry="7.6" transform="rotate(12 159.8 351.8)" fill="url(#bead)"/>
<ellipse cx="165.9" cy="353.1" rx="3.8" ry="7.9" transform="rotate(12 165.9 353.1)" fill="url(#bead)"/>
<ellipse cx="172.4" cy="354.4" rx="4.1" ry="8.2" transform="rotate(12 172.4 354.4)" fill="url(#bead)"/>
<ellipse cx="179.3" cy="355.9" rx="4.3" ry="8.6" transform="rotate(12 179.3 355.9)" fill="url(#bead)"/>
<ellipse cx="186.6" cy="357.4" rx="4.6" ry="8.9" transform="rotate(12 186.6 357.4)" fill="url(#bead)"/>
<ellipse cx="194.4" cy="359.1" rx="4.8" ry="9.2" transform="rotate(12 194.4 359.1)" fill="url(#bead)"/>
<ellipse cx="202.6" cy="360.9" rx="5.1" ry="9.4" transform="rotate(12 202.6 360.9)" fill="url(#bead)"/>
<ellipse cx="211.3" cy="362.8" rx="5.4" ry="9.6" transform="rotate(13 211.3 362.8)" fill="url(#bead)"/>
<ellipse cx="220.5" cy="365.2" rx="5.8" ry="9.8" transform="rotate(15 220.5 365.2)" fill="url(#bead)"/>
<ellipse cx="230.5" cy="367.8" rx="6.3" ry="10.1" transform="rotate(13 230.5 367.8)" fill="url(#bead)"/>
<ellipse cx="406.5" cy="144.5" rx="2.8" ry="3.0" transform="rotate(-90 406.5 144.5)" fill="url(#bead2)"/>
<ellipse cx="406.5" cy="149.7" rx="2.9" ry="3.1" transform="rotate(-89 406.5 149.7)" fill="url(#bead2)"/>
<ellipse cx="406.4" cy="155.1" rx="3.1" ry="3.3" transform="rotate(-88 406.4 155.1)" fill="url(#bead2)"/>
<ellipse cx="406.0" cy="160.8" rx="3.2" ry="3.4" transform="rotate(-84 406.0 160.8)" fill="url(#bead2)"/>
<ellipse cx="405.3" cy="166.7" rx="3.3" ry="3.5" transform="rotate(-82 405.3 166.7)" fill="url(#bead2)"/>
<ellipse cx="404.4" cy="172.9" rx="3.5" ry="3.7" transform="rotate(-81 404.4 172.9)" fill="url(#bead2)"/>
<ellipse cx="403.2" cy="179.3" rx="3.7" ry="3.8" transform="rotate(-79 403.2 179.3)" fill="url(#bead2)"/>
<ellipse cx="401.8" cy="185.9" rx="3.8" ry="4.0" transform="rotate(-76 401.8 185.9)" fill="url(#bead2)"/>
<ellipse cx="399.9" cy="192.7" rx="4.0" ry="4.1" transform="rotate(-74 399.9 192.7)" fill="url(#bead2)"/>
<ellipse cx="397.9" cy="199.8" rx="4.1" ry="4.2" transform="rotate(-74 397.9 199.8)" fill="url(#bead2)"/>
<ellipse cx="395.6" cy="207.2" rx="4.3" ry="4.4" transform="rotate(-71 395.6 207.2)" fill="url(#bead2)"/>
<ellipse cx="392.9" cy="214.7" rx="4.5" ry="4.5" transform="rotate(-69 392.9 214.7)" fill="url(#bead2)"/>
<ellipse cx="389.8" cy="222.6" rx="4.7" ry="4.7" transform="rotate(-68 389.8 222.6)" fill="url(#bead2)"/>
<ellipse cx="386.4" cy="230.8" rx="5.0" ry="5.0" transform="rotate(-67 386.4 230.8)" fill="url(#bead2)"/>
<ellipse cx="382.3" cy="239.1" rx="5.2" ry="5.2" transform="rotate(-60 382.3 239.1)" fill="url(#bead2)"/>
<ellipse cx="377.1" cy="247.3" rx="5.5" ry="5.5" transform="rotate(-56 377.1 247.3)" fill="url(#bead2)"/>
<ellipse cx="371.2" cy="255.7" rx="5.7" ry="5.7" transform="rotate(-54 371.2 255.7)" fill="url(#bead2)"/>
<ellipse cx="364.8" cy="264.0" rx="5.9" ry="5.9" transform="rotate(-52 364.8 264.0)" fill="url(#bead2)"/>
<ellipse cx="358.1" cy="272.7" rx="6.1" ry="6.1" transform="rotate(-52 358.1 272.7)" fill="url(#bead2)"/>
<ellipse cx="351.0" cy="281.5" rx="6.3" ry="6.3" transform="rotate(-51 351.0 281.5)" fill="url(#bead)"/>
<ellipse cx="343.9" cy="290.7" rx="6.5" ry="6.5" transform="rotate(-52 343.9 290.7)" fill="url(#bead)"/>
<ellipse cx="336.2" cy="299.9" rx="6.8" ry="6.8" transform="rotate(-44 336.2 299.9)" fill="url(#bead)"/>
<ellipse cx="326.1" cy="306.8" rx="6.9" ry="6.9" transform="rotate(-34 326.1 306.8)" fill="url(#bead)"/>
<ellipse cx="316.3" cy="314.4" rx="7.0" ry="7.0" transform="rotate(-40 316.3 314.4)" fill="url(#bead)"/>
<ellipse cx="306.7" cy="322.5" rx="7.1" ry="7.1" transform="rotate(-41 306.7 322.5)" fill="url(#bead)"/>
<ellipse cx="297.1" cy="330.8" rx="7.2" ry="7.2" transform="rotate(-40 297.1 330.8)" fill="url(#bead)"/>
<ellipse cx="286.8" cy="338.6" rx="7.3" ry="7.3" transform="rotate(-35 286.8 338.6)" fill="url(#bead)"/>
<ellipse cx="276.0" cy="346.1" rx="7.4" ry="7.4" transform="rotate(-34 276.0 346.1)" fill="url(#bead)"/>
<ellipse cx="264.6" cy="352.8" rx="7.5" ry="7.5" transform="rotate(-26 264.6 352.8)" fill="url(#bead)"/>
<ellipse cx="253.3" cy="359.9" rx="7.6" ry="7.6" transform="rotate(-48 253.3 359.9)" fill="url(#bead)"/>
<ellipse cx="241.8" cy="368.9" rx="9.5" ry="10.0" transform="rotate(-8 241.8 368.9)" fill="url(#bead)"/>
<path d="M408.0 92.0 C407.9 96.7 408.0 111.7 407.5 120.0 C407.0 128.3 405.8 134.5 405.0 141.7 C404.2 148.9 403.7 155.8 402.5 163.0 C401.3 170.2 399.8 177.7 398.0 185.0 C396.2 192.3 393.9 200.0 391.7 206.7 C389.5 213.4 387.3 220.0 385.0 225.0 C382.7 230.0 381.1 232.0 378.0 236.7 C374.9 241.4 370.9 247.8 366.7 253.0 C362.5 258.2 358.6 262.7 353.0 268.0 C347.4 273.3 339.1 280.5 333.0 285.0 C326.9 289.5 322.2 292.2 316.7 295.0 C311.2 297.8 306.1 300.1 300.0 302.0 C293.9 303.9 286.7 305.2 280.0 306.5 C273.3 307.8 266.7 309.2 260.0 310.0 C253.3 310.8 246.7 311.2 240.0 311.0 C233.3 310.8 226.7 309.5 220.0 308.5 C213.3 307.5 207.5 306.8 200.0 305.0 C192.5 303.2 183.3 301.0 175.0 297.5 C166.7 294.0 154.2 286.2 150.0 284.0 L150.0 284.0 C152.0 283.6 157.8 282.5 162.0 281.8 C166.2 281.1 169.8 280.8 175.0 280.0 C180.2 279.2 186.8 278.3 193.0 277.3 C199.2 276.3 208.8 274.6 212.0 274.0 L212.0 274.0 C212.2 274.7 212.8 276.7 213.5 278.0 C214.2 279.3 214.9 280.8 216.0 282.0 C217.1 283.2 218.3 284.1 220.0 285.0 C221.7 285.9 223.8 287.3 226.0 287.5 C228.2 287.7 230.7 286.8 233.0 286.0 C235.3 285.2 237.7 284.0 240.0 283.0 C242.3 282.0 244.7 281.0 247.0 280.0 C249.3 279.0 251.5 278.2 254.0 277.2 C256.5 276.2 260.7 274.5 262.0 274.0 L262.0 274.0 L300.0 200.0 L400.0 90.0 Z" fill="#efefef"/>
<clipPath id="cW"><path d="M408.0 92.0 C407.9 96.7 408.0 111.7 407.5 120.0 C407.0 128.3 405.8 134.5 405.0 141.7 C404.2 148.9 403.7 155.8 402.5 163.0 C401.3 170.2 399.8 177.7 398.0 185.0 C396.2 192.3 393.9 200.0 391.7 206.7 C389.5 213.4 387.3 220.0 385.0 225.0 C382.7 230.0 381.1 232.0 378.0 236.7 C374.9 241.4 370.9 247.8 366.7 253.0 C362.5 258.2 358.6 262.7 353.0 268.0 C347.4 273.3 339.1 280.5 333.0 285.0 C326.9 289.5 322.2 292.2 316.7 295.0 C311.2 297.8 306.1 300.1 300.0 302.0 C293.9 303.9 286.7 305.2 280.0 306.5 C273.3 307.8 266.7 309.2 260.0 310.0 C253.3 310.8 246.7 311.2 240.0 311.0 C233.3 310.8 226.7 309.5 220.0 308.5 C213.3 307.5 207.5 306.8 200.0 305.0 C192.5 303.2 183.3 301.0 175.0 297.5 C166.7 294.0 154.2 286.2 150.0 284.0 L150.0 284.0 C152.0 283.6 157.8 282.5 162.0 281.8 C166.2 281.1 169.8 280.8 175.0 280.0 C180.2 279.2 186.8 278.3 193.0 277.3 C199.2 276.3 208.8 274.6 212.0 274.0 L212.0 274.0 C212.2 274.7 212.8 276.7 213.5 278.0 C214.2 279.3 214.9 280.8 216.0 282.0 C217.1 283.2 218.3 284.1 220.0 285.0 C221.7 285.9 223.8 287.3 226.0 287.5 C228.2 287.7 230.7 286.8 233.0 286.0 C235.3 285.2 237.7 284.0 240.0 283.0 C242.3 282.0 244.7 281.0 247.0 280.0 C249.3 279.0 251.5 278.2 254.0 277.2 C256.5 276.2 260.7 274.5 262.0 274.0 L262.0 274.0 L300.0 200.0 L400.0 90.0 Z"/></clipPath>
<g clip-path="url(#cW)">
<path d="M408.0 92.0 C407.9 96.7 408.0 111.7 407.5 120.0 C407.0 128.3 405.8 134.5 405.0 141.7 C404.2 148.9 403.7 155.8 402.5 163.0 C401.3 170.2 399.8 177.7 398.0 185.0 C396.2 192.3 393.9 200.0 391.7 206.7 C389.5 213.4 387.3 220.0 385.0 225.0 C382.7 230.0 381.1 232.0 378.0 236.7 C374.9 241.4 370.9 247.8 366.7 253.0 C362.5 258.2 358.6 262.7 353.0 268.0 C347.4 273.3 339.1 280.5 333.0 285.0 C326.9 289.5 322.2 292.2 316.7 295.0 C311.2 297.8 306.1 300.1 300.0 302.0 C293.9 303.9 286.7 305.2 280.0 306.5 C273.3 307.8 266.7 309.2 260.0 310.0 C253.3 310.8 246.7 311.2 240.0 311.0 C233.3 310.8 226.7 309.5 220.0 308.5 C213.3 307.5 207.5 306.8 200.0 305.0 C192.5 303.2 183.3 301.0 175.0 297.5 C166.7 294.0 154.2 286.2 150.0 284.0" fill="none" stroke="#fbfbfb" stroke-width="5"/>
</g>
<path d="M150.0 284.0 C152.0 283.6 157.8 282.5 162.0 281.8 C166.2 281.1 169.8 280.8 175.0 280.0 C180.2 279.2 186.8 278.3 193.0 277.3 C199.2 276.3 208.8 274.6 212.0 274.0 L212.0 274.0 C212.2 274.7 212.8 276.7 213.5 278.0 C214.2 279.3 214.9 280.8 216.0 282.0 C217.1 283.2 218.3 284.1 220.0 285.0 C221.7 285.9 223.0 285.7 226.0 287.5 C229.0 289.3 233.2 293.2 238.0 296.0 C242.8 298.8 248.8 302.1 255.0 304.0 C261.2 305.9 271.7 306.9 275.0 307.5 L275.0 307.5 C272.5 307.9 265.8 309.4 260.0 310.0 C254.2 310.6 246.7 311.2 240.0 311.0 C233.3 310.8 226.7 309.5 220.0 308.5 C213.3 307.5 207.5 306.8 200.0 305.0 C192.5 303.2 183.3 301.0 175.0 297.5 C166.7 294.0 154.2 286.2 150.0 284.0 Z" fill="url(#gflap2)"/>
<g clip-path="url(#cW)"><path d="M406.0 87.5 C405.9 89.6 405.8 95.4 405.5 100.0 C405.2 104.6 404.5 110.0 404.0 115.0 C403.5 120.0 403.0 123.9 402.5 130.0 C402.0 136.1 401.8 144.8 400.8 151.7 C399.8 158.6 398.5 165.0 396.7 171.7 C394.9 178.4 392.5 185.6 390.0 191.7 C387.5 197.8 385.0 201.9 381.7 208.0 C378.4 214.1 374.3 222.2 370.0 228.0 C365.7 233.8 361.0 238.7 356.0 243.0 C351.0 247.3 346.0 250.7 340.0 254.0 C334.0 257.3 326.7 260.2 320.0 263.0 C313.3 265.8 306.7 269.0 300.0 271.0 C293.3 273.0 286.7 274.3 280.0 275.0 C273.3 275.7 266.7 275.8 260.0 275.0 C253.3 274.2 245.8 271.2 240.0 270.0 C234.2 268.8 227.5 267.9 225.0 267.5" fill="none" stroke="#b8b8b8" stroke-width="6" filter="url(#b2)" transform="translate(2,3.5)"/></g>
<path d="M257.5 79.5 C259.6 79.0 265.9 77.2 270.0 76.5 C274.1 75.8 272.0 75.2 282.0 75.0 C292.0 74.8 315.3 74.4 330.0 75.0 C344.7 75.6 360.8 77.5 370.0 78.5 C379.2 79.5 380.5 80.1 385.0 81.0 C389.5 81.9 393.5 82.9 397.0 84.0 C400.5 85.1 404.5 86.9 406.0 87.5 L406.0 87.5 C405.9 89.6 405.8 95.4 405.5 100.0 C405.2 104.6 404.5 110.0 404.0 115.0 C403.5 120.0 403.0 123.9 402.5 130.0 C402.0 136.1 401.8 144.8 400.8 151.7 C399.8 158.6 398.5 165.0 396.7 171.7 C394.9 178.4 392.5 185.6 390.0 191.7 C387.5 197.8 385.0 201.9 381.7 208.0 C378.4 214.1 374.3 222.2 370.0 228.0 C365.7 233.8 361.0 238.7 356.0 243.0 C351.0 247.3 346.0 250.7 340.0 254.0 C334.0 257.3 326.7 260.2 320.0 263.0 C313.3 265.8 306.7 269.0 300.0 271.0 C293.3 273.0 286.7 274.3 280.0 275.0 C273.3 275.7 266.7 275.8 260.0 275.0 C253.3 274.2 245.8 271.2 240.0 270.0 C234.2 268.8 231.7 268.8 225.0 267.5 C218.3 266.2 210.0 265.0 200.0 262.5 C190.0 260.0 175.3 256.9 165.0 252.5 C154.7 248.1 142.5 238.8 138.0 236.0 L138.0 236.0 C140.0 235.6 143.0 235.4 150.0 233.8 C157.0 232.1 172.5 228.0 180.0 226.0 C187.5 224.0 190.3 223.3 195.0 222.0 C199.7 220.7 205.8 218.7 208.0 218.0 L208.0 218.0 C208.2 219.3 208.8 223.3 209.5 226.0 C210.2 228.7 210.9 231.4 212.0 234.0 C213.1 236.6 214.7 239.2 216.0 241.5 C217.3 243.8 218.3 245.9 220.0 248.0 C221.7 250.1 225.0 253.0 226.0 254.0 L226.0 254.0 C228.0 252.8 234.0 249.0 238.0 246.5 C242.0 244.0 246.7 241.2 250.0 239.0 C253.3 236.8 255.3 235.2 258.0 233.0 C260.7 230.8 263.7 228.5 266.0 226.0 C268.3 223.5 270.3 220.7 272.0 218.0 C273.7 215.3 274.8 213.3 276.0 210.0 C277.2 206.7 278.2 202.2 279.0 198.0 C279.8 193.8 281.0 191.3 281.0 185.0 C281.0 178.7 280.5 169.2 279.0 160.0 C277.5 150.8 274.5 140.5 272.0 130.0 C269.5 119.5 266.4 105.4 264.0 97.0 C261.6 88.6 258.6 82.4 257.5 79.5 Z" fill="#fafafa"/>
<clipPath id="cT"><path d="M257.5 79.5 C259.6 79.0 265.9 77.2 270.0 76.5 C274.1 75.8 272.0 75.2 282.0 75.0 C292.0 74.8 315.3 74.4 330.0 75.0 C344.7 75.6 360.8 77.5 370.0 78.5 C379.2 79.5 380.5 80.1 385.0 81.0 C389.5 81.9 393.5 82.9 397.0 84.0 C400.5 85.1 404.5 86.9 406.0 87.5 L406.0 87.5 C405.9 89.6 405.8 95.4 405.5 100.0 C405.2 104.6 404.5 110.0 404.0 115.0 C403.5 120.0 403.0 123.9 402.5 130.0 C402.0 136.1 401.8 144.8 400.8 151.7 C399.8 158.6 398.5 165.0 396.7 171.7 C394.9 178.4 392.5 185.6 390.0 191.7 C387.5 197.8 385.0 201.9 381.7 208.0 C378.4 214.1 374.3 222.2 370.0 228.0 C365.7 233.8 361.0 238.7 356.0 243.0 C351.0 247.3 346.0 250.7 340.0 254.0 C334.0 257.3 326.7 260.2 320.0 263.0 C313.3 265.8 306.7 269.0 300.0 271.0 C293.3 273.0 286.7 274.3 280.0 275.0 C273.3 275.7 266.7 275.8 260.0 275.0 C253.3 274.2 245.8 271.2 240.0 270.0 C234.2 268.8 231.7 268.8 225.0 267.5 C218.3 266.2 210.0 265.0 200.0 262.5 C190.0 260.0 175.3 256.9 165.0 252.5 C154.7 248.1 142.5 238.8 138.0 236.0 L138.0 236.0 C140.0 235.6 143.0 235.4 150.0 233.8 C157.0 232.1 172.5 228.0 180.0 226.0 C187.5 224.0 190.3 223.3 195.0 222.0 C199.7 220.7 205.8 218.7 208.0 218.0 L208.0 218.0 C208.2 219.3 208.8 223.3 209.5 226.0 C210.2 228.7 210.9 231.4 212.0 234.0 C213.1 236.6 214.7 239.2 216.0 241.5 C217.3 243.8 218.3 245.9 220.0 248.0 C221.7 250.1 225.0 253.0 226.0 254.0 L226.0 254.0 C228.0 252.8 234.0 249.0 238.0 246.5 C242.0 244.0 246.7 241.2 250.0 239.0 C253.3 236.8 255.3 235.2 258.0 233.0 C260.7 230.8 263.7 228.5 266.0 226.0 C268.3 223.5 270.3 220.7 272.0 218.0 C273.7 215.3 274.8 213.3 276.0 210.0 C277.2 206.7 278.2 202.2 279.0 198.0 C279.8 193.8 281.0 191.3 281.0 185.0 C281.0 178.7 280.5 169.2 279.0 160.0 C277.5 150.8 274.5 140.5 272.0 130.0 C269.5 119.5 266.4 105.4 264.0 97.0 C261.6 88.6 258.6 82.4 257.5 79.5 Z"/></clipPath>
<clipPath id="cQ"><path d="M292.0 88.5 C286.2 90.5 294.0 95.2 295.0 100.0 C296.0 104.8 297.2 111.2 298.0 117.0 C298.8 122.8 299.5 129.5 300.0 135.0 C300.5 140.5 301.3 142.5 301.0 150.0 C300.7 157.5 299.8 170.8 298.0 180.0 C296.2 189.2 293.0 198.0 290.0 205.0 C287.0 212.0 284.0 217.2 280.0 222.0 C276.0 226.8 271.0 230.4 266.0 234.0 C261.0 237.6 255.7 240.5 250.0 243.5 C244.3 246.5 236.0 250.0 232.0 252.0 C228.0 254.0 224.7 253.5 226.0 255.5 C227.3 257.5 234.3 261.8 240.0 264.0 C245.7 266.2 253.3 268.1 260.0 269.0 C266.7 269.9 273.3 270.1 280.0 269.5 C286.7 268.9 293.3 267.4 300.0 265.5 C306.7 263.6 313.8 260.8 320.0 258.0 C326.2 255.2 331.7 251.8 337.0 248.5 C342.3 245.2 347.3 242.1 352.0 238.0 C356.7 233.9 361.0 229.5 365.0 224.0 C369.0 218.5 372.8 210.8 376.0 205.0 C379.2 199.2 381.5 194.8 384.0 189.0 C386.5 183.2 389.1 176.3 391.0 170.0 C392.9 163.7 394.4 157.7 395.5 151.0 C396.6 144.3 397.0 136.5 397.5 130.0 C398.0 123.5 398.2 117.0 398.5 112.0 C398.8 107.0 399.4 102.8 399.0 100.0 C398.6 97.2 398.3 96.2 396.0 95.0 C393.7 93.8 389.3 93.2 385.0 92.5 C380.7 91.8 379.2 91.2 370.0 90.5 C360.8 89.8 343.0 88.3 330.0 88.0 C317.0 87.7 297.8 86.5 292.0 88.5Z"/></clipPath>
<g clip-path="url(#cT)">
<path d="M292.0 88.5 C286.2 90.5 294.0 95.2 295.0 100.0 C296.0 104.8 297.2 111.2 298.0 117.0 C298.8 122.8 299.5 129.5 300.0 135.0 C300.5 140.5 301.3 142.5 301.0 150.0 C300.7 157.5 299.8 170.8 298.0 180.0 C296.2 189.2 293.0 198.0 290.0 205.0 C287.0 212.0 284.0 217.2 280.0 222.0 C276.0 226.8 271.0 230.4 266.0 234.0 C261.0 237.6 255.7 240.5 250.0 243.5 C244.3 246.5 236.0 250.0 232.0 252.0 C228.0 254.0 224.7 253.5 226.0 255.5 C227.3 257.5 234.3 261.8 240.0 264.0 C245.7 266.2 253.3 268.1 260.0 269.0 C266.7 269.9 273.3 270.1 280.0 269.5 C286.7 268.9 293.3 267.4 300.0 265.5 C306.7 263.6 313.8 260.8 320.0 258.0 C326.2 255.2 331.7 251.8 337.0 248.5 C342.3 245.2 347.3 242.1 352.0 238.0 C356.7 233.9 361.0 229.5 365.0 224.0 C369.0 218.5 372.8 210.8 376.0 205.0 C379.2 199.2 381.5 194.8 384.0 189.0 C386.5 183.2 389.1 176.3 391.0 170.0 C392.9 163.7 394.4 157.7 395.5 151.0 C396.6 144.3 397.0 136.5 397.5 130.0 C398.0 123.5 398.2 117.0 398.5 112.0 C398.8 107.0 399.4 102.8 399.0 100.0 C398.6 97.2 398.3 96.2 396.0 95.0 C393.7 93.8 389.3 93.2 385.0 92.5 C380.7 91.8 379.2 91.2 370.0 90.5 C360.8 89.8 343.0 88.3 330.0 88.0 C317.0 87.7 297.8 86.5 292.0 88.5Z" fill="#f1f1ef"/>
<g clip-path="url(#cQ)">
<rect x="130" y="60" width="290" height="230" fill="url(#quilt)" mask="url(#mq)" filter="url(#b05)"/>
<path d="M300 120 Q350 160 330 245 Q300 275 250 268 Q320 220 300 120Z" fill="#e2e2df" opacity="0.55" filter="url(#b7)"/>
<path d="M300 78 Q390 80 402 100 L398 130 Q380 100 300 96Z" fill="#fbfbfa" opacity="0.8" filter="url(#b4)"/>
</g>
<path d="M292.0 88.5 C286.2 90.5 294.0 95.2 295.0 100.0 C296.0 104.8 297.2 111.2 298.0 117.0 C298.8 122.8 299.5 129.5 300.0 135.0 C300.5 140.5 301.3 142.5 301.0 150.0 C300.7 157.5 299.8 170.8 298.0 180.0 C296.2 189.2 293.0 198.0 290.0 205.0 C287.0 212.0 284.0 217.2 280.0 222.0 C276.0 226.8 271.0 230.4 266.0 234.0 C261.0 237.6 255.7 240.5 250.0 243.5 C244.3 246.5 236.0 250.0 232.0 252.0 C228.0 254.0 224.7 253.5 226.0 255.5 C227.3 257.5 234.3 261.8 240.0 264.0 C245.7 266.2 253.3 268.1 260.0 269.0 C266.7 269.9 273.3 270.1 280.0 269.5 C286.7 268.9 293.3 267.4 300.0 265.5 C306.7 263.6 313.8 260.8 320.0 258.0 C326.2 255.2 331.7 251.8 337.0 248.5 C342.3 245.2 347.3 242.1 352.0 238.0 C356.7 233.9 361.0 229.5 365.0 224.0 C369.0 218.5 372.8 210.8 376.0 205.0 C379.2 199.2 381.5 194.8 384.0 189.0 C386.5 183.2 389.1 176.3 391.0 170.0 C392.9 163.7 394.4 157.7 395.5 151.0 C396.6 144.3 397.0 136.5 397.5 130.0 C398.0 123.5 398.2 117.0 398.5 112.0 C398.8 107.0 399.4 102.8 399.0 100.0 C398.6 97.2 398.3 96.2 396.0 95.0 C393.7 93.8 389.3 93.2 385.0 92.5 C380.7 91.8 379.2 91.2 370.0 90.5 C360.8 89.8 343.0 88.3 330.0 88.0 C317.0 87.7 297.8 86.5 292.0 88.5Z" fill="none" stroke="#dcdcda" stroke-width="1.2" filter="url(#b1)"/>
</g>
<path d="M138.0 236.0 C140.0 235.6 143.0 235.4 150.0 233.8 C157.0 232.1 172.5 228.0 180.0 226.0 C187.5 224.0 190.3 223.3 195.0 222.0 C199.7 220.7 205.8 218.7 208.0 218.0 L208.0 218.0 C208.2 219.3 208.8 223.3 209.5 226.0 C210.2 228.7 210.9 231.4 212.0 234.0 C213.1 236.6 214.7 239.2 216.0 241.5 C217.3 243.8 218.3 245.9 220.0 248.0 C221.7 250.1 223.0 251.7 226.0 254.0 C229.0 256.3 233.2 259.4 238.0 262.0 C242.8 264.6 248.8 267.4 255.0 269.5 C261.2 271.6 271.7 273.7 275.0 274.5 L275.0 274.5 C272.5 274.6 265.8 275.8 260.0 275.0 C254.2 274.2 245.8 271.2 240.0 270.0 C234.2 268.8 231.7 268.8 225.0 267.5 C218.3 266.2 210.0 265.0 200.0 262.5 C190.0 260.0 175.3 256.9 165.0 252.5 C154.7 248.1 142.5 238.8 138.0 236.0 Z" fill="url(#gflap1)"/>
<path d="M292.0 457.5 C295.3 456.7 297.3 459.1 300.0 461.0 C302.7 462.9 305.1 466.0 308.0 469.0 C310.9 472.0 316.2 476.0 317.5 479.0 C318.8 482.0 317.2 484.3 316.0 487.0 C314.8 489.7 312.2 493.0 310.0 495.0 C307.8 497.0 305.7 498.8 303.0 499.0 C300.3 499.2 297.3 497.3 294.0 496.0 C290.7 494.7 287.0 492.2 283.0 491.0 C279.0 489.8 271.8 491.2 270.0 489.0 C268.2 486.8 270.3 481.8 272.0 478.0 C273.7 474.2 276.7 469.4 280.0 466.0 C283.3 462.6 288.7 458.3 292.0 457.5Z" fill="#f1f1f1"/>
<path d="M286 465 L298 470 L286 485 L276 480Z" fill="#fdfdfd"/>
<line x1="366.3" y1="140.7" x2="424.3" y2="44.5" stroke="#82d0d6" stroke-width="1.1"/>
<line x1="369.5" y1="231.8" x2="474.0" y2="259.2" stroke="#82d0d6" stroke-width="1.1"/>
<line x1="335.6" y1="301.3" x2="430.0" y2="304.0" stroke="#82d0d6" stroke-width="1.1"/>
<line x1="325.5" y1="336.3" x2="472.0" y2="384.0" stroke="#82d0d6" stroke-width="1.1"/>
<line x1="272.0" y1="417.0" x2="394.0" y2="478.0" stroke="#82d0d6" stroke-width="1.1"/>
<line x1="256.5" y1="443.0" x2="313.5" y2="534.0" stroke="#82d0d6" stroke-width="1.1"/>
<line x1="193.7" y1="496.3" x2="139.0" y2="525.5" stroke="#82d0d6" stroke-width="1.1"/>
<circle cx="366.3" cy="140.7" r="3.1" fill="url(#dot)"/>
<circle cx="369.5" cy="231.8" r="3.1" fill="url(#dot)"/>
<circle cx="335.6" cy="301.3" r="3.1" fill="url(#dot)"/>
<circle cx="325.5" cy="336.3" r="3.1" fill="url(#dot)"/>
<circle cx="272.0" cy="417.0" r="3.1" fill="url(#dot)"/>
<circle cx="256.5" cy="443.0" r="3.1" fill="url(#dot)"/>
<circle cx="193.7" cy="496.3" r="3.1" fill="url(#dot)"/>
<g font-family="'Liberation Sans', sans-serif" fill="#ffffff">
<g stroke="#ffffff" stroke-width="0.3">
<text x="26.7" y="50.8" font-size="16.2" textLength="136.5" lengthAdjust="spacing" >UNIQUE 7 LAYER</text>
<text x="26.7" y="68.3" font-size="16.2" textLength="178.5" lengthAdjust="spacing" >DRY-TO-THE-TOUCH</text>
<text x="26.7" y="86.0" font-size="16.2" textLength="102.5" lengthAdjust="spacing" >360 DEGREE</text>
<text x="26.7" y="104.0" font-size="16.2" textLength="139.5" lengthAdjust="spacing" >ABSORBENT PAD</text>
<text x="26.7" y="121.6" font-size="16.2" textLength="115.0" lengthAdjust="spacing" >TECHNOLOGY</text>
</g>
<g fill="#f8faf6" stroke="#4d6646" stroke-width="0.3">
<text x="389.0" y="39.3" font-size="15.6" textLength="157.0" lengthAdjust="spacing" >Feather-like Topsheet</text>
<text x="474.0" y="254.3" font-size="15.6" textLength="77.7" lengthAdjust="spacing" >Core wrap</text>
<text x="473.3" y="269.0" font-size="15.6" textLength="101.7" lengthAdjust="spacing" >(tissue paper)</text>
<text x="432.7" y="302.7" font-size="15.6" textLength="69.0" lengthAdjust="spacing" >Ultra Fast</text>
<text x="432.7" y="317.0" font-size="15.6" textLength="114.6" lengthAdjust="spacing" >Absorbent Core</text>
<text x="474.0" y="390.0" font-size="15.6" textLength="77.7" lengthAdjust="spacing" >Core wrap</text>
<text x="473.3" y="404.5" font-size="15.6" textLength="101.7" lengthAdjust="spacing" >(tissue paper)</text>
<text x="397.2" y="494.0" font-size="15.6" textLength="86.8" lengthAdjust="spacing" >Feather-like</text>
<text x="397.2" y="508.2" font-size="15.6" textLength="65.0" lengthAdjust="spacing" >Topsheet</text>
<text x="286.0" y="550.0" font-size="15.6" textLength="114.0" lengthAdjust="spacing" >Breathable film</text>
<text x="284.8" y="564.8" font-size="15.6" textLength="93.2" lengthAdjust="spacing" >(Cornstarch)</text>
<text x="46.5" y="513.5" font-size="15.6" textLength="81.0" lengthAdjust="spacing" >Breathable</text>
<text x="46.5" y="527.5" font-size="15.6" textLength="73.5" lengthAdjust="spacing" >backsheet</text>
<text x="45.0" y="542.0" font-size="15.6" textLength="75.6" lengthAdjust="spacing" >(Bamboo)</text>
</g>
<g font-style="italic" font-size="7.6" fill="#eef3ec" fill-opacity="0.92" stroke="#46603f" stroke-width="0.22">
<text x="431.5" y="358.8" transform="rotate(8 431.5 358.8)" textLength="46" lengthAdjust="spacing">Water vapor</text>
<text x="420" y="425" transform="rotate(33 420 425)" textLength="48" lengthAdjust="spacing">Water vapor</text>
<text x="381" y="421" transform="rotate(96 381 421)" textLength="48" lengthAdjust="spacing">Water vapor</text>
</g>
</g>
</svg>
</body></html>
